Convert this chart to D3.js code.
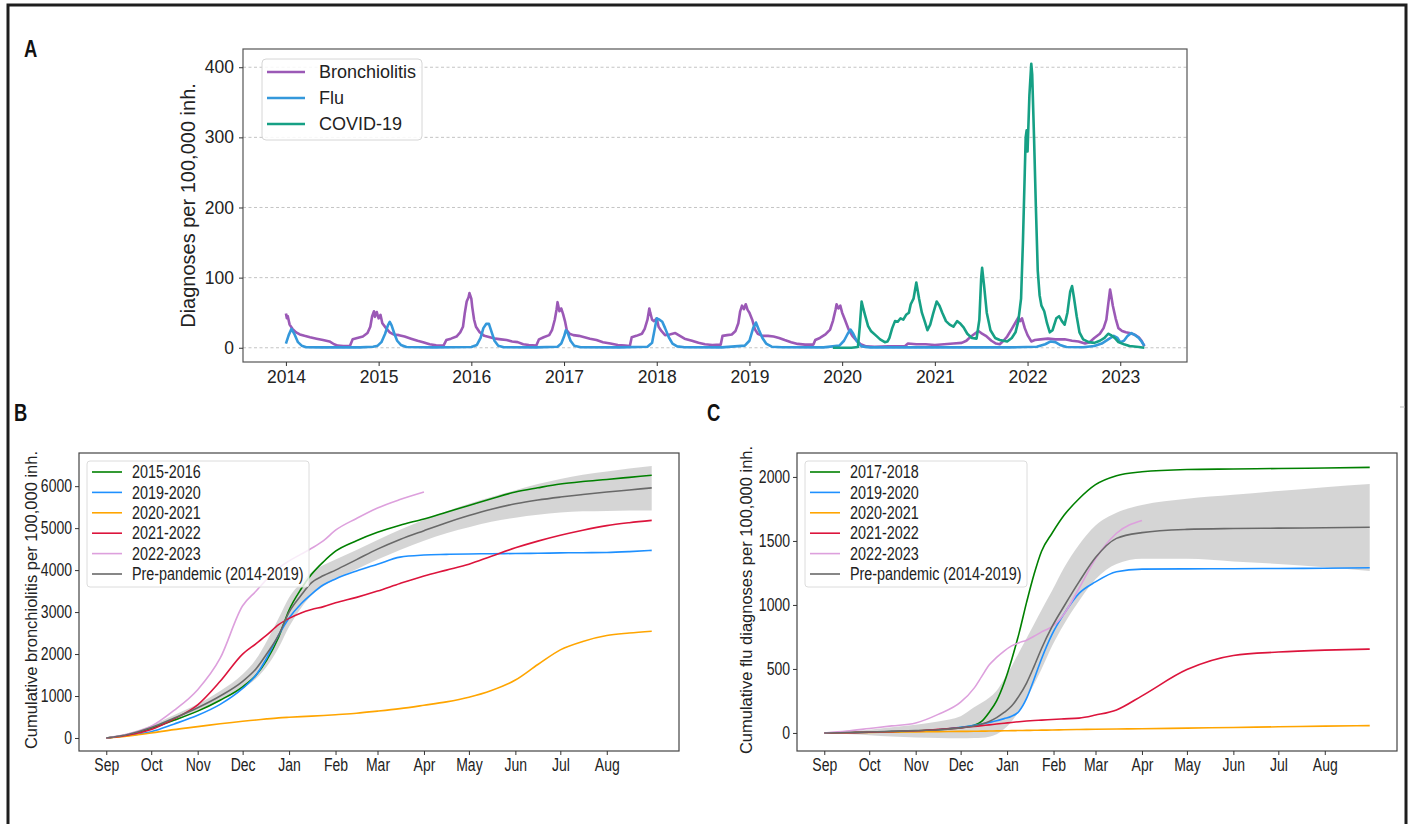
<!DOCTYPE html>
<html>
<head>
<meta charset="utf-8">
<script src="https://cdn.jsdelivr.net/npm/d3@7/dist/d3.min.js"></script>
<style>
  body { margin: 0; background: #fff; }
  svg { display: block; }
</style>
</head>
<body>
<div class="canvas"></div>
<script>
// ---- panel A: daily diagnoses per 100,000 inh. ([decimal year, value]) ----
const yearTicks = [2014, 2015, 2016, 2017, 2018, 2019, 2020, 2021, 2022, 2023];
const rateTicks = [0, 100, 200, 300, 400];

const bronchiolitis = [
  [2014.00,49],[2014.01,42],[2014.02,45],[2014.04,33],[2014.07,27],[2014.11,22],[2014.15,19],[2014.20,17],[2014.26,15],[2014.33,13],
  [2014.40,11],[2014.47,9],[2014.52,5],[2014.56,3],[2014.62,2.5],[2014.69,2.5],[2014.72,12],[2014.77,14],[2014.83,16],[2014.88,21],
  [2014.91,30],[2014.93,45],[2014.95,52],[2014.96,44],[2014.98,51],[2015.00,42],[2015.02,47],[2015.04,35],[2015.08,28],[2015.12,22],
  [2015.16,19],[2015.22,18],[2015.28,16],[2015.35,13],[2015.42,10],[2015.48,8],[2015.55,5],[2015.62,3.5],[2015.70,3],[2015.73,11],
  [2015.78,13],[2015.84,16],[2015.88,22],[2015.91,30],[2015.93,50],[2015.95,66],[2015.97,72],[2015.98,78],[2016.00,70],[2016.01,58],
  [2016.03,40],[2016.05,30],[2016.09,22],[2016.14,17],[2016.20,15],[2016.26,13],[2016.32,12],[2016.38,11],[2016.44,9],[2016.50,8],
  [2016.56,5],[2016.62,4],[2016.70,3],[2016.73,12],[2016.78,15],[2016.84,18],[2016.87,25],[2016.90,40],[2016.92,55],[2016.93,65],
  [2016.95,52],[2016.97,56],[2016.99,48],[2017.01,38],[2017.03,25],[2017.06,20],[2017.10,18],[2017.16,17],[2017.22,15],[2017.28,13],
  [2017.35,11],[2017.42,8],[2017.50,6],[2017.58,4],[2017.66,3],[2017.71,2.5],[2017.73,15],[2017.78,17],[2017.84,20],[2017.87,27],
  [2017.90,40],[2017.92,56],[2017.93,50],[2017.95,40],[2017.97,38],[2018.00,42],[2018.02,30],[2018.05,24],[2018.09,18],[2018.14,19],
  [2018.20,21],[2018.25,17],[2018.30,13],[2018.38,10],[2018.45,7],[2018.52,5],[2018.60,4],[2018.69,4.5],[2018.71,17],[2018.76,18],
  [2018.81,19],[2018.85,24],[2018.88,35],[2018.90,52],[2018.92,60],[2018.94,55],[2018.96,62],[2018.98,54],[2019.00,50],[2019.03,40],
  [2019.06,26],[2019.09,20],[2019.14,17],[2019.20,17],[2019.26,16],[2019.32,14],[2019.38,11],[2019.45,8],[2019.52,5.5],[2019.60,4.5],
  [2019.69,4.5],[2019.71,11],[2019.76,14],[2019.82,19],[2019.87,26],[2019.90,38],[2019.93,55],[2019.94,62],[2019.96,56],[2019.98,60],
  [2020.00,50],[2020.03,40],[2020.07,26],[2020.11,17],[2020.15,11],[2020.20,5],[2020.26,2],[2020.35,1.5],[2020.50,2],[2020.68,2.5],
  [2020.71,6],[2020.80,5],[2020.90,5],[2021.00,4],[2021.10,5],[2021.20,6],[2021.29,7],[2021.34,10],[2021.38,15],[2021.43,20],
  [2021.47,24],[2021.50,21],[2021.55,17],[2021.61,10],[2021.66,6],[2021.70,5],[2021.74,10],[2021.78,16],[2021.83,27],[2021.87,36],
  [2021.90,43],[2021.92,38],[2021.94,42],[2021.97,28],[2022.00,18],[2022.04,9],[2022.08,11],[2022.14,12],[2022.22,13],[2022.30,12],
  [2022.40,12],[2022.48,10],[2022.55,9],[2022.62,6],[2022.67,8],[2022.72,14],[2022.78,20],[2022.82,28],[2022.85,40],[2022.87,62],
  [2022.89,83],[2022.90,76],[2022.92,60],[2022.95,42],[2022.98,28],[2023.02,24],[2023.06,22],[2023.10,21],[2023.15,19],[2023.20,15],
  [2023.23,10],[2023.26,2]
];

const flu = [
  [2014.00,6],[2014.03,18],[2014.06,27],[2014.09,20],[2014.13,8],[2014.17,3],[2014.22,0.8],[2014.40,0.5],[2014.80,0.5],[2014.94,1.5],
  [2014.99,3],[2015.03,8],[2015.07,20],[2015.10,32],[2015.12,37],[2015.14,32],[2015.17,20],[2015.20,10],[2015.24,4],[2015.30,1],
  [2015.60,0.5],[2016.00,1],[2016.06,4],[2016.10,14],[2016.13,28],[2016.16,34],[2016.19,34],[2016.22,22],[2016.25,10],[2016.29,3],
  [2016.35,0.8],[2016.70,0.5],[2016.93,1.5],[2016.97,6],[2017.00,16],[2017.02,25],[2017.04,21],[2017.07,10],[2017.11,3],[2017.18,0.8],
  [2017.60,0.5],[2017.90,1.5],[2017.95,7],[2017.98,28],[2018.00,42],[2018.03,40],[2018.06,37],[2018.09,28],[2018.13,15],[2018.17,6],
  [2018.22,2],[2018.30,0.8],[2018.70,0.5],[2018.95,3],[2019.00,10],[2019.04,28],[2019.07,36],[2019.10,26],[2019.14,14],[2019.18,6],
  [2019.24,1.5],[2019.35,0.8],[2019.80,0.5],[2019.97,3],[2020.02,10],[2020.06,20],[2020.09,26],[2020.12,20],[2020.16,9],[2020.21,2],
  [2020.30,0.5],[2021.00,0.5],[2021.80,0.5],[2022.10,1.5],[2022.19,5],[2022.25,9],[2022.30,8],[2022.35,4],[2022.42,1],[2022.60,0.8],
  [2022.72,2.5],[2022.80,6],[2022.87,12],[2022.93,17],[2022.97,14],[2023.00,8],[2023.04,10],[2023.08,17],[2023.12,21],[2023.16,18],
  [2023.20,14],[2023.23,9],[2023.26,3]
];

const covid = [
  [2019.90,0],[2020.10,0],[2020.17,1],[2020.19,30],[2020.21,66],[2020.23,55],[2020.25,45],[2020.28,31],[2020.31,24],[2020.36,18],
  [2020.41,12],[2020.46,8],[2020.49,9],[2020.51,14],[2020.54,28],[2020.57,38],[2020.60,37],[2020.63,42],[2020.66,40],[2020.69,47],
  [2020.72,50],[2020.74,62],[2020.77,70],[2020.80,93],[2020.83,70],[2020.86,50],[2020.89,38],[2020.92,25],[2020.95,33],[2020.98,48],
  [2021.02,66],[2021.05,60],[2021.08,50],[2021.12,38],[2021.16,33],[2021.20,30],[2021.24,38],[2021.27,35],[2021.31,29],[2021.35,20],
  [2021.40,14],[2021.45,13],[2021.48,40],[2021.50,100],[2021.51,114],[2021.53,90],[2021.56,50],[2021.60,25],[2021.65,14],[2021.70,11],
  [2021.78,9],[2021.83,14],[2021.87,22],[2021.90,38],[2021.93,70],[2021.95,150],[2021.97,250],[2021.98,300],[2021.99,310],[2022.00,280],
  [2022.02,360],[2022.04,405],[2022.05,390],[2022.07,300],[2022.09,200],[2022.11,110],[2022.13,75],[2022.15,60],[2022.18,52],[2022.21,35],
  [2022.24,22],[2022.27,25],[2022.31,42],[2022.34,45],[2022.37,38],[2022.40,33],[2022.43,50],[2022.46,80],[2022.48,88],[2022.50,72],
  [2022.53,45],[2022.56,22],[2022.60,12],[2022.66,8],[2022.72,7],[2022.78,10],[2022.83,14],[2022.87,20],[2022.90,18],[2022.94,14],
  [2022.98,8],[2023.04,5],[2023.10,2.5],[2023.20,1],[2023.26,0]
];

// ---- panels B and C: cumulative diagnoses by day of season (day 0 = 1 Sep) ----
const monthDays = [0, 30, 61, 91, 122, 153, 181, 212, 242, 273, 303, 334];
const monthLabels = ['Sep', 'Oct', 'Nov', 'Dec', 'Jan', 'Feb', 'Mar', 'Apr', 'May', 'Jun', 'Jul', 'Aug'];
const seasonLabels = ['2019-2020', '2020-2021', '2021-2022', '2022-2023', 'Pre-pandemic (2014-2019)'];

const daysB = [0,15,30,45,61,76,91,100,107,115,122,130,137,145,153,167,181,196,212,227,242,257,273,288,303,318,334,349,364];
const bronch1516 = [0,80,230,420,640,900,1220,1500,1850,2400,3050,3550,3900,4200,4450,4700,4900,5070,5220,5380,5540,5700,5860,5960,6050,6110,6160,6210,6260];
const bronch1920 = [0,60,150,330,540,800,1180,1500,1900,2450,2860,3200,3430,3650,3790,3980,4140,4310,4360,4375,4385,4390,4395,4400,4410,4415,4420,4440,4470];
const bronch2021 = [0,50,120,200,270,340,400,430,455,480,495,510,520,535,555,590,640,700,780,860,970,1130,1380,1750,2100,2300,2440,2500,2545];
const bronch2122 = [0,70,200,450,790,1350,2000,2250,2450,2700,2850,2980,3060,3130,3220,3350,3500,3680,3860,4000,4140,4330,4530,4690,4830,4950,5060,5130,5185];
const bronch2223 = [0,100,280,650,1150,1900,3150,3500,3780,4050,4220,4380,4520,4700,4950,5230,5480,5680,5860];
const bronchPre = [0,90,250,470,720,1000,1350,1650,2000,2450,3000,3400,3700,3870,4000,4250,4500,4730,4940,5130,5300,5450,5580,5670,5740,5800,5860,5910,5960];
const bronchPreLow = [0,60,200,400,630,880,1180,1420,1700,2150,2650,3100,3400,3620,3780,4020,4250,4480,4700,4880,5020,5150,5250,5320,5370,5400,5410,5420,5420];
const bronchPreHigh = [0,120,300,540,810,1120,1520,1880,2300,2850,3350,3700,3950,4120,4250,4480,4720,4960,5200,5400,5580,5740,5900,6050,6170,6270,6350,6420,6480];

const daysC = [0,15,30,45,61,76,91,100,105,110,115,120,125,130,135,140,145,152,160,170,181,195,212,242,273,303,334,364];
const flu1718 = [0,3,6,10,16,25,42,60,90,160,250,390,570,780,1020,1240,1420,1560,1700,1830,1940,2010,2040,2058,2062,2066,2070,2075];
const flu1920 = [0,2,5,10,15,25,45,60,70,82,95,112,130,170,270,420,580,770,930,1090,1180,1260,1280,1282,1283,1285,1287,1290];
const flu2021 = [0,2,4,6,8,10,12,13,14,15,16,17,18,19,20,21,22,23,25,27,29,31,33,38,43,48,53,57];
const flu2122 = [0,2,5,10,17,28,40,50,57,63,70,76,82,88,93,97,100,105,110,116,140,180,290,495,605,632,647,655];
const flu2223 = [0,15,35,55,78,145,240,350,440,530,590,640,680,705,725,755,790,830,930,1130,1360,1560,1660];
const fluPre = [0,3,7,12,18,25,40,55,70,90,120,160,210,290,390,520,660,830,990,1180,1370,1520,1565,1590,1597,1600,1603,1607];
const fluPreLow = [0,-8,-18,-28,-36,-40,-42,-40,-38,-30,-10,30,90,170,270,380,500,680,850,1030,1200,1320,1360,1360,1340,1320,1295,1265];
const fluPreHigh = [0,12,25,45,65,90,130,200,235,275,330,420,520,630,740,850,960,1110,1290,1470,1620,1720,1780,1830,1860,1890,1920,1945];

// ---- svg ----
const width = 1411;
const height = 824;
const fontA = "'Liberation Sans', Arial, sans-serif";

const svg = d3.select('.canvas')
    .append('svg')
    .attr('width', width)
    .attr('height', height);

// squeeze text horizontally (the B/C labels use a condensed face)
const narrow = (sel, f) => sel.each(function() {
    const w = this.getComputedTextLength();
    d3.select(this)
        .attr('textLength', w * f)
        .attr('lengthAdjust', 'spacingAndGlyphs');
});

// outer figure frame
svg.append('path')
    .attr('d', 'M8,830 V5 H1406 V830')
    .attr('fill', 'none')
    .attr('stroke', '#1e1e1e')
    .attr('stroke-width', 3);

svg.append('line')
    .attr('x1', 1400).attr('x2', 1405)
    .attr('y1', 407).attr('y2', 407)
    .attr('stroke', '#bbb');

// panel letters
[['A', 24, 57], ['B', 14, 421], ['C', 707, 421]].forEach(([t, x, y]) => {
    svg.append('text')
        .attr('x', x).attr('y', y)
        .attr('font-family', fontA)
        .attr('font-weight', 'bold')
        .attr('font-size', 23)
        .attr('fill', '#111')
        .text(t)
        .call(narrow, 0.8);
});

// ================= panel A =================
const boxA = { left: 243, right: 1187, top: 49, bottom: 362 };
const xA = d3.scaleLinear().domain([2013.537, 2023.72]).range([boxA.left, boxA.right]);
const yA = d3.scaleLinear().domain([-20.3, 426]).range([boxA.bottom, boxA.top]);

const gA = svg.append('g');

// dashed horizontal grid
gA.selectAll('line.grid')
    .data(rateTicks)
    .enter()
    .append('line')
        .attr('class', 'grid')
        .attr('x1', boxA.left).attr('x2', boxA.right)
        .attr('y1', d => yA(d)).attr('y2', d => yA(d))
        .attr('stroke', '#bdbdbd')
        .attr('stroke-width', 0.9)
        .attr('stroke-dasharray', '3,2.5');

const lineA = d3.line()
    .x(d => xA(d[0]))
    .y(d => yA(d[1]));

const seriesA = [
    { name: 'Bronchiolitis', data: bronchiolitis, color: '#9b59b6' },
    { name: 'Flu', data: flu, color: '#3498db' },
    { name: 'COVID-19', data: covid, color: '#16a085' }
];

seriesA.forEach(s => {
    gA.append('path')
        .datum(s.data)
        .attr('d', lineA)
        .attr('fill', 'none')
        .attr('stroke', s.color)
        .attr('stroke-width', 2.6)
        .attr('stroke-linejoin', 'round');
});

gA.append('rect')
    .attr('x', boxA.left).attr('y', boxA.top)
    .attr('width', boxA.right - boxA.left)
    .attr('height', boxA.bottom - boxA.top)
    .attr('fill', 'none')
    .attr('stroke', '#555')
    .attr('stroke-width', 1.2);

const xAxisA = gA.append('g')
    .attr('transform', `translate(0, ${boxA.bottom})`)
    .call(d3.axisBottom(xA).tickValues(yearTicks).tickFormat(d3.format('d')).tickSize(4).tickPadding(5));

const yAxisA = gA.append('g')
    .attr('transform', `translate(${boxA.left}, 0)`)
    .call(d3.axisLeft(yA).tickValues(rateTicks).tickSize(4).tickPadding(5));

[xAxisA, yAxisA].forEach(ax => {
    ax.select('.domain').remove();
    ax.selectAll('line').attr('stroke', '#333');
    ax.selectAll('text')
        .attr('font-family', fontA)
        .attr('font-size', 17.5)
        .attr('fill', '#222');
});

gA.append('text')
    .attr('transform', `translate(195, ${(boxA.top + boxA.bottom) / 2}) rotate(-90)`)
    .attr('text-anchor', 'middle')
    .attr('font-family', fontA)
    .attr('font-size', 20)
    .attr('fill', '#222')
    .text('Diagnoses per 100,000 inh.');

// legend A
const legA = gA.append('g');
legA.append('rect')
    .attr('x', 262).attr('y', 59)
    .attr('width', 160).attr('height', 81)
    .attr('rx', 4)
    .attr('fill', '#fff')
    .attr('fill-opacity', 0.85)
    .attr('stroke', '#d6d6d6');

seriesA.forEach((s, i) => {
    const y = 72 + i * 26;
    legA.append('line')
        .attr('x1', 267).attr('x2', 305)
        .attr('y1', y).attr('y2', y)
        .attr('stroke', s.color)
        .attr('stroke-width', 2.6);
    legA.append('text')
        .attr('x', 319).attr('y', y)
        .attr('dy', '0.35em')
        .attr('font-family', fontA)
        .attr('font-size', 18)
        .attr('fill', '#222')
        .text(s.name);
});

// ================= panels B and C =================
const drawCumulative = (opt) => {

    const box = opt.box;
    const x = d3.scaleLinear().domain([-18.2, 382.2]).range([box.left, box.right]);
    const y = d3.scaleLinear().domain(opt.yDomain).range([box.bottom, box.top]);

    const g = svg.append('g');

    const toPoints = vals => vals.map((v, i) => ({ day: opt.days[i], v: v }));

    const line = d3.line()
        .x(d => x(d.day))
        .y(d => y(d.v))
        .curve(d3.curveMonotoneX);

    // pre-pandemic band
    const band = d3.area()
        .x((d, i) => x(opt.days[i]))
        .y0(d => y(d[0]))
        .y1(d => y(d[1]))
        .curve(d3.curveMonotoneX);

    g.append('path')
        .datum(opt.bandLow.map((v, i) => [v, opt.bandHigh[i]]))
        .attr('d', band)
        .attr('fill', '#d3d3d3')
        .attr('fill-opacity', 0.95);

    opt.series.forEach(s => {
        g.append('path')
            .datum(toPoints(s.values))
            .attr('d', line)
            .attr('fill', 'none')
            .attr('stroke', s.color)
            .attr('stroke-width', 1.6);
    });

    g.append('rect')
        .attr('x', box.left).attr('y', box.top)
        .attr('width', box.right - box.left)
        .attr('height', box.bottom - box.top)
        .attr('fill', 'none')
        .attr('stroke', '#444')
        .attr('stroke-width', 1.2);

    const xAxis = g.append('g')
        .attr('transform', `translate(0, ${box.bottom})`)
        .call(d3.axisBottom(x).tickValues(monthDays).tickFormat((d, i) => monthLabels[i]).tickSize(4).tickPadding(4));

    const yAxis = g.append('g')
        .attr('transform', `translate(${box.left}, 0)`)
        .call(d3.axisLeft(y).tickValues(opt.yTicks).tickFormat(d3.format('d')).tickSize(4).tickPadding(3));

    [xAxis, yAxis].forEach(ax => {
        ax.select('.domain').remove();
        ax.selectAll('line').attr('stroke', '#333');
        ax.selectAll('text')
            .attr('font-family', fontA)
            .attr('font-size', 17.5)
            .attr('fill', '#222')
            .call(narrow, 0.8);
    });

    g.append('text')
        .attr('transform', `translate(${opt.yLabelX}, ${box.top + 147}) rotate(-90)`)
        .attr('text-anchor', 'middle')
        .attr('dy', '0.35em')
        .attr('font-family', fontA)
        .attr('font-size', 16.5)
        .attr('fill', '#222')
        .text(opt.yLabel);

    // legend
    const leg = g.append('g');
    leg.append('rect')
        .attr('x', box.left + 8).attr('y', 461)
        .attr('width', opt.legendWidth).attr('height', 126)
        .attr('rx', 3)
        .attr('fill', '#fff')
        .attr('fill-opacity', 0.8)
        .attr('stroke', '#dcdcdc');

    opt.series.forEach((s, i) => {
        const yy = 472 + i * 20.4;
        leg.append('line')
            .attr('x1', box.left + 13).attr('x2', box.left + 43)
            .attr('y1', yy).attr('y2', yy)
            .attr('stroke', s.color)
            .attr('stroke-width', 1.6);
        leg.append('text')
            .attr('x', box.left + 53).attr('y', yy)
            .attr('dy', '0.35em')
            .attr('font-family', fontA)
            .attr('font-size', 17.5)
            .attr('fill', '#222')
            .text(s.name)
            .call(narrow, 0.82);
    });
};

drawCumulative({
    box: { left: 79, right: 679, top: 453, bottom: 751 },
    yDomain: [-310, 6790],
    yTicks: [0, 1000, 2000, 3000, 4000, 5000, 6000],
    yLabel: 'Cumulative bronchiolitis per 100,000 inh.',
    yLabelX: 31,
    legendWidth: 222,
    days: daysB,
    bandLow: bronchPreLow,
    bandHigh: bronchPreHigh,
    series: [
        { name: '2015-2016', values: bronch1516, color: 'green' },
        { name: seasonLabels[0], values: bronch1920, color: 'dodgerblue' },
        { name: seasonLabels[1], values: bronch2021, color: 'orange' },
        { name: seasonLabels[2], values: bronch2122, color: 'crimson' },
        { name: seasonLabels[3], values: bronch2223, color: 'plum' },
        { name: seasonLabels[4], values: bronchPre, color: 'dimgray' }
    ]
});

drawCumulative({
    box: { left: 797, right: 1397, top: 453, bottom: 751 },
    yDomain: [-141, 2187],
    yTicks: [0, 500, 1000, 1500, 2000],
    yLabel: 'Cumulative flu diagnoses per 100,000 inh.',
    yLabelX: 746,
    legendWidth: 222,
    days: daysC,
    bandLow: fluPreLow,
    bandHigh: fluPreHigh,
    series: [
        { name: '2017-2018', values: flu1718, color: 'green' },
        { name: seasonLabels[0], values: flu1920, color: 'dodgerblue' },
        { name: seasonLabels[1], values: flu2021, color: 'orange' },
        { name: seasonLabels[2], values: flu2122, color: 'crimson' },
        { name: seasonLabels[3], values: flu2223, color: 'plum' },
        { name: seasonLabels[4], values: fluPre, color: 'dimgray' }
    ]
});
</script>
</body>
</html>
